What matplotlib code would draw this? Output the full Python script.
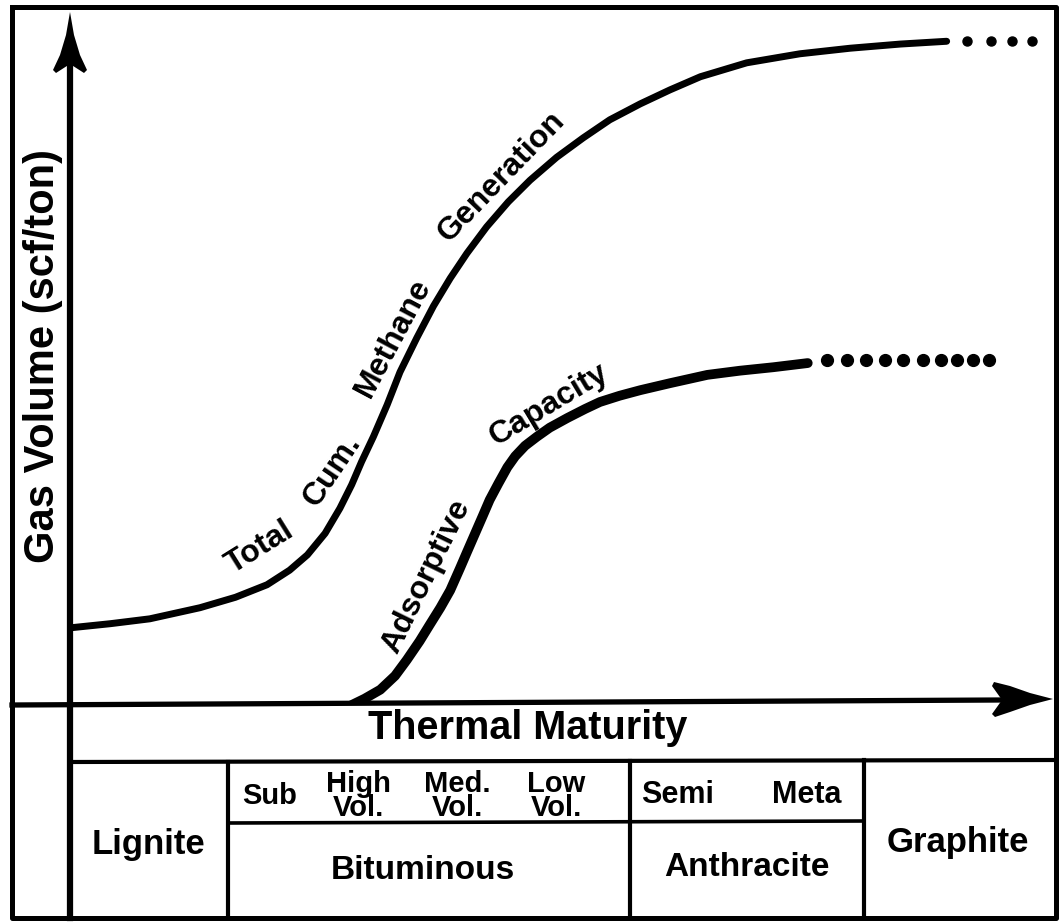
import matplotlib
matplotlib.use('Agg')
import matplotlib.pyplot as plt

# ------------------------------------------------------------
# Data (thermal maturity 0-100, gas volume 0-100, arbitrary units)
# ------------------------------------------------------------
total_x = [0.0, 4.1, 8.1, 13.2, 16.8, 20.0, 22.3, 24.1, 25.9, 27.4, 28.6, 29.6,
           30.8, 32.2, 33.5, 35.2, 36.9, 38.6, 40.3, 42.3, 44.5, 46.7, 49.4,
           52.1, 54.8, 57.9, 60.9, 64.0, 68.7, 74.1, 79.2, 84.3, 89.0]
total_y = [11.1, 11.7, 12.4, 14.0, 15.5, 17.3, 19.4, 21.6, 24.7, 28.3, 31.7, 35.0,
           38.6, 43.2, 47.9, 52.8, 57.4, 61.4, 65.0, 68.8, 72.4, 75.5, 78.8,
           81.6, 84.2, 86.5, 88.5, 90.4, 92.4, 93.7, 94.5, 95.1, 95.5]
total_dots_x = [91.1, 93.5, 95.6, 97.7]
total_dots_y = [95.5, 95.5, 95.5, 95.5]

adsorb_x = [28.6, 29.9, 31.5, 33.0, 34.2, 35.5, 36.5, 37.6, 38.6, 39.6, 40.3,
            41.1, 41.9, 42.6, 43.5, 44.4, 45.2, 46.2, 47.4, 48.7, 50.5, 52.3,
            53.8, 55.8, 57.9, 60.9, 64.7, 68.0, 71.4, 74.9]
adsorb_y = [0.0, 0.9, 2.2, 4.2, 6.5, 9.2, 11.5, 14.0, 16.5, 19.7, 22.0,
            24.6, 27.2, 29.5, 31.9, 34.2, 35.8, 37.3, 38.6, 39.9, 41.3, 42.6,
            43.6, 44.5, 45.3, 46.3, 47.5, 48.1, 48.6, 49.2]
adsorb_dots_x = [76.9, 78.9, 80.8, 82.7, 84.6, 86.6, 88.4, 90.1, 91.7, 93.3]
adsorb_dots_y = [49.6] * 10

# coal rank table
rank_labels = ['Lignite', 'Bituminous', 'Anthracite', 'Graphite']
bit_sub_labels = ['Sub', 'High\nVol.', 'Med.\nVol.', 'Low\nVol.']
anth_sub_labels = ['Semi', 'Meta']

FONT = 'Liberation Sans'
W, H = 1063, 922

fig = plt.figure(figsize=(W / 100, H / 100), dpi=100)
fig.patch.set_facecolor('white')

# background axes in pixel units for frame, table and labels
bg = fig.add_axes([0, 0, 1, 1])
bg.set_xlim(0, W)
bg.set_ylim(H, 0)
bg.axis('off')

kw = dict(color='black', solid_capstyle='projecting')

# outer border
bg.plot([12, 1056, 1056, 12, 12], [7, 7, 918, 918, 7], lw=3.6, **kw)
# y axis (runs down through the table)
bg.plot([70, 70], [60, 918], lw=4.5, **kw)
# x axis
bg.plot([12, 1000], [705, 700], lw=3.8, **kw)
# table lines
bg.plot([70, 1056], [762, 760], lw=3, **kw)
bg.plot([228, 228], [762, 918], lw=3, **kw)
bg.plot([630, 630], [761, 918], lw=3, **kw)
bg.plot([864, 864], [760, 918], lw=3, **kw)
bg.plot([228, 864], [823, 821], lw=2.6, **kw)

# arrow heads (concave back)
bg.fill([70, 66, 60, 53, 56, 70, 84, 87, 80, 74],
        [12, 35, 55, 70, 73, 64, 73, 70, 55, 35], color='black', lw=0)
bg.fill([1053, 1030, 1010, 994, 992, 1002, 992, 995, 1010, 1030],
        [699, 693, 686, 682, 686, 700, 714, 717, 712, 705], color='black', lw=0)

# axis titles
bg.text(43, 356, 'Gas Volume (scf/ton)', rotation=90, ha='center', va='center',
        fontsize=30, fontweight='bold', family=FONT)
bg.text(528, 728, 'Thermal Maturity', ha='center', va='center',
        fontsize=28.5, fontweight='bold', family=FONT)

# table text
rank_pos = [(148, 844), (423, 870), (747, 867), (958, 842)]
rank_size = [25, 24, 24, 25]
for lab, (x, y), fs in zip(rank_labels, rank_pos, rank_size):
    bg.text(x, y, lab, ha='center', va='center', fontsize=fs,
            fontweight='bold', family=FONT)
bit_pos = [270, 358, 457, 556]
for lab, x in zip(bit_sub_labels, bit_pos):
    bg.text(x, 796, lab, ha='center', va='center', fontsize=21,
            fontweight='bold', family=FONT, linespacing=0.8)
for lab, x in zip(anth_sub_labels, [678, 807]):
    bg.text(x, 795, lab, ha='center', va='center', fontsize=22,
            fontweight='bold', family=FONT)

# curve labels
curve_words = [('Total', 260, 548, 32), ('Cum.', 332, 470, 56),
               ('Methane', 393, 338, 62), ('Generation', 502, 177, 46),
               ('Adsorptive', 426, 576, 64), ('Capacity', 549, 405, 31)]
for word, x, y, rot in curve_words:
    bg.text(x, y, word, ha='center', va='center', rotation=rot,
            rotation_mode='anchor', fontsize=23, fontweight='bold', family=FONT)

# chart axes (data units)
ax = fig.add_axes([70 / W, (H - 705) / H, 985 / W, 695 / H])
ax.set_xlim(0, 100)
ax.set_ylim(0, 100)
ax.axis('off')
ax.patch.set_alpha(0)

ax.plot(total_x, total_y, color='black', lw=5, solid_capstyle='round',
        solid_joinstyle='round')
ax.plot(total_dots_x, total_dots_y, 'o', color='black', ms=6.5)
ax.plot(adsorb_x, adsorb_y, color='black', lw=7, solid_capstyle='round',
        solid_joinstyle='round')
ax.plot(adsorb_dots_x, adsorb_dots_y, 'o', color='black', ms=8.5)

fig.savefig('out.png', dpi=100, facecolor='white')
